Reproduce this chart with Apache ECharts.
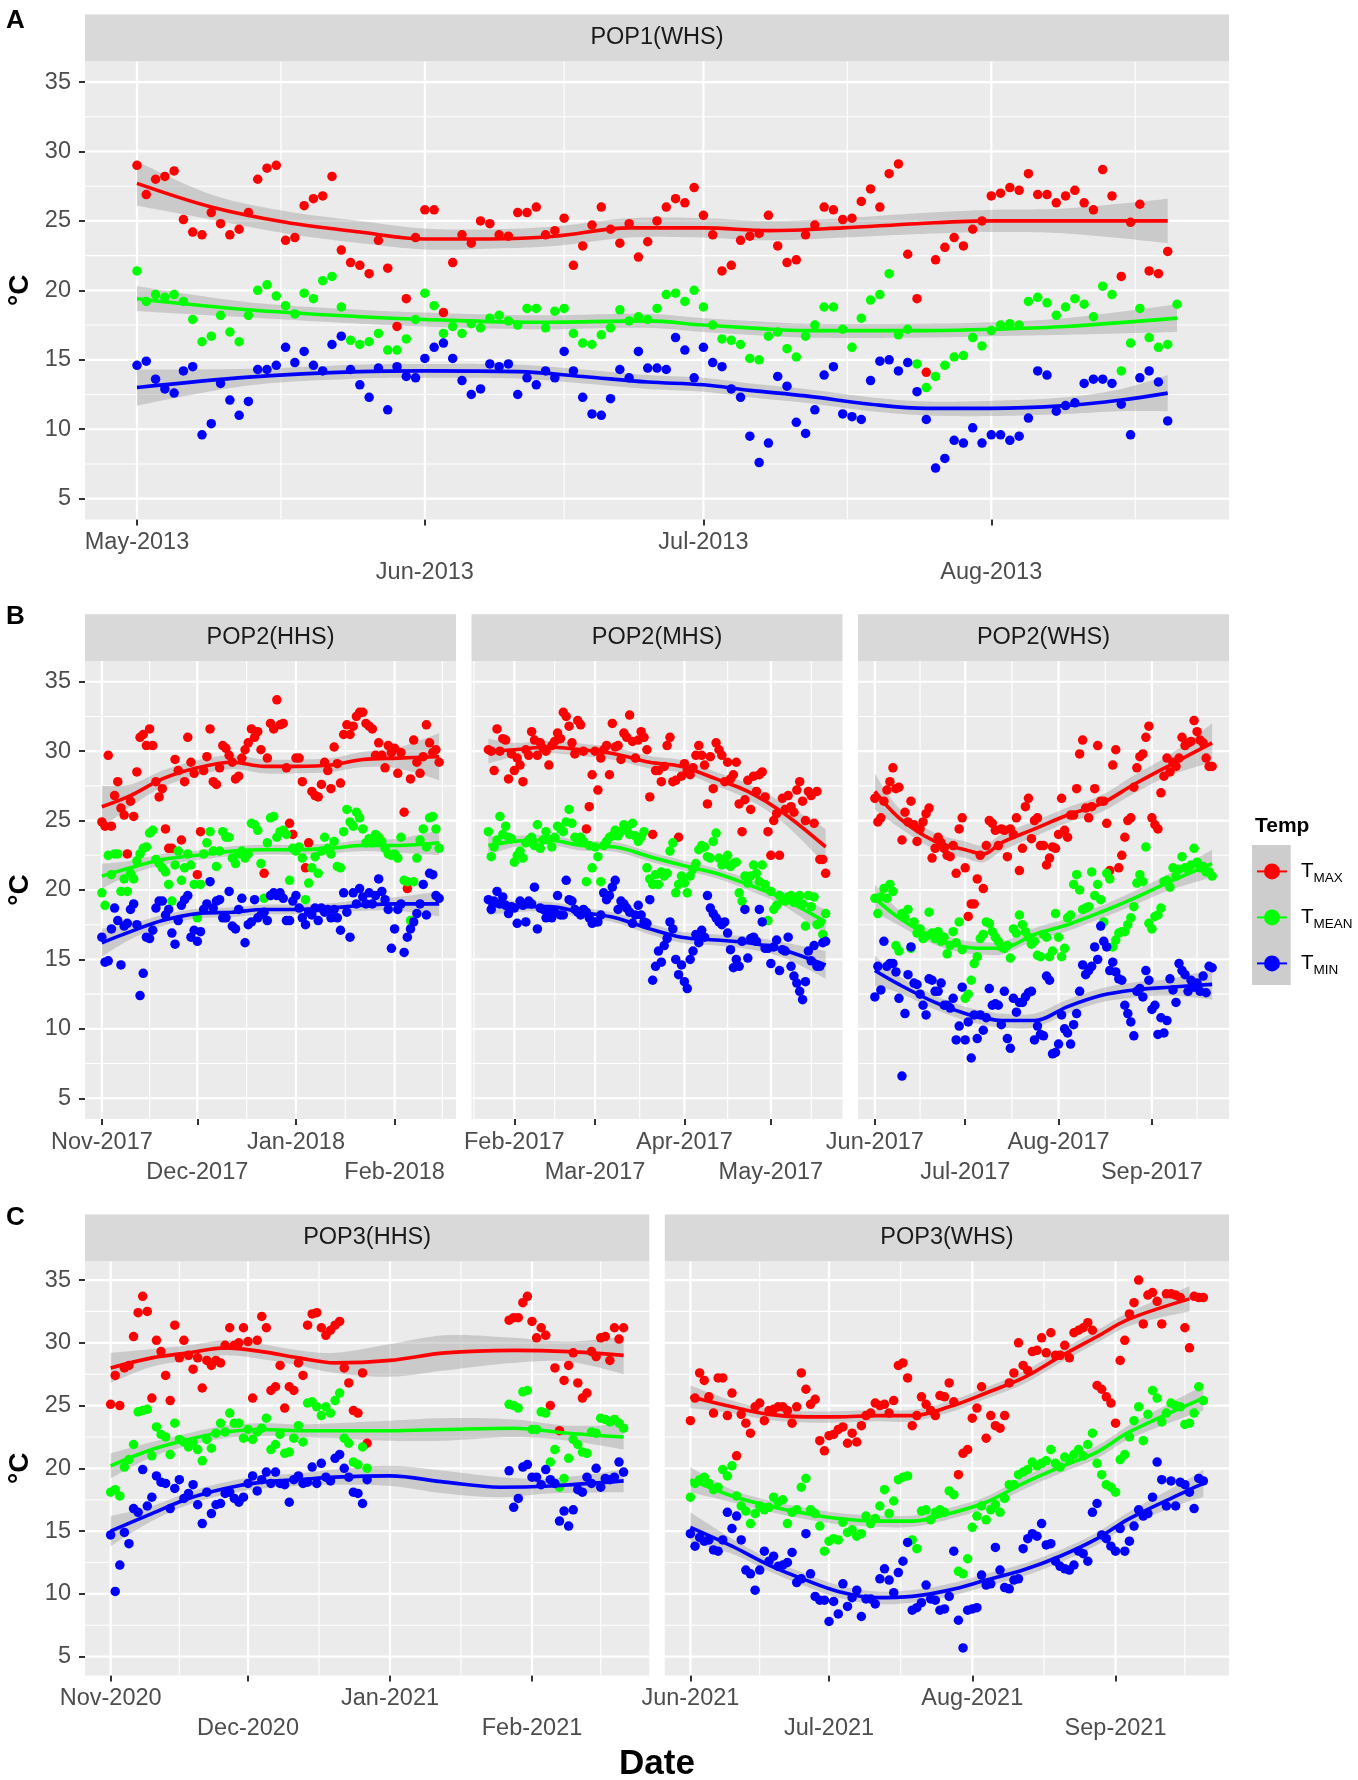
<!DOCTYPE html>
<html>
<head>
<meta charset="utf-8">
<script src="https://cdn.jsdelivr.net/npm/echarts@6/dist/echarts.min.js"></script>
<style>html,body{margin:0;padding:0;background:#fff}#chart{width:1358px;height:1780px}</style>
</head>
<body>
<div id="chart"></div>
<script>
// ===== DATA =====
const SERIES_NAMES = ['TMAX', 'TMEAN', 'TMIN'];
const Y_TICKS = [5, 10, 15, 20, 25, 30, 35];

// --- Panel A: POP1(WHS) ---
const A_START = '2013-05-01';
const A_TICKS = ['2013-05-01', '2013-06-01', '2013-07-01', '2013-08-01'];
const A_TMAX = [29.0,26.9,28.0,28.2,28.6,25.1,24.2,24.0,25.6,24.8,24.0,24.4,25.6,28.0,28.8,29.0,23.6,23.8,26.1,26.6,26.8,28.2,22.9,22.0,21.8,21.2,23.6,21.6,17.4,19.4,23.8,25.8,25.8,18.4,22.0,24.0,23.4,25.0,24.8,24.0,23.9,25.6,25.6,26.0,24.0,24.3,25.2,21.8,23.2,24.7,26.0,24.4,23.4,24.8,22.4,23.5,25.0,26.0,26.6,26.3,27.4,25.4,24.0,21.4,21.8,23.6,23.9,24.1,25.4,23.2,22.0,22.2,24.0,24.7,26.0,25.8,25.1,25.2,26.4,27.3,26.0,28.4,29.1,22.6,19.4,14.1,22.2,23.1,23.8,23.2,24.4,25.0,26.8,27.0,27.4,27.2,28.4,26.9,26.9,26.3,26.8,27.2,26.3,25.8,28.7,26.8,21.0,24.9,26.2,21.4,21.2,22.8];
const A_TMEAN = [21.4,19.2,19.7,19.5,19.7,19.2,17.9,16.3,16.7,18.2,17.0,16.3,18.2,20.0,20.4,19.6,18.9,18.3,19.8,19.4,20.7,21.0,18.8,16.4,16.1,16.3,16.9,15.7,15.7,16.5,17.9,19.8,18.9,16.9,17.4,16.9,17.6,17.3,18.0,18.2,17.8,17.5,18.7,18.7,17.3,18.5,18.7,16.9,16.2,16.1,16.8,17.3,18.6,17.8,18.1,17.9,18.7,19.7,19.8,19.2,20.0,18.8,17.5,16.5,16.4,16.1,15.1,15.0,16.7,17.0,15.8,15.2,16.7,17.5,18.8,18.8,17.2,15.9,18.0,19.3,19.7,21.2,16.8,17.2,14.7,13.0,13.8,14.6,15.2,15.3,16.6,16.0,17.1,17.5,17.6,17.5,19.2,19.5,19.1,18.2,18.8,19.4,19.0,18.1,20.3,19.7,14.2,16.2,18.7,16.6,15.9,16.1,19.0];
const A_TMIN = [14.6,14.9,13.6,12.9,12.6,14.2,14.5,9.6,10.4,13.3,12.1,11.0,12.0,14.3,14.3,14.6,15.9,14.8,15.6,14.6,14.2,16.1,16.7,14.3,13.2,12.3,14.4,11.4,14.5,13.8,13.7,15.1,15.9,16.2,15.1,13.5,12.5,12.9,14.7,14.5,14.7,12.5,13.7,13.2,14.2,13.7,15.6,14.2,12.3,11.1,11.0,12.2,14.3,13.7,15.6,14.4,14.4,14.3,16.6,15.7,13.7,15.9,14.8,14.5,12.9,12.3,9.5,7.6,9.0,13.8,13.1,10.5,9.7,11.4,13.9,14.5,11.1,10.9,10.7,13.5,14.9,15.0,14.2,14.8,12.7,10.7,7.2,7.9,9.2,9.0,10.1,9.0,9.6,9.6,9.2,9.5,10.8,14.2,13.9,11.3,11.7,11.9,13.3,13.6,13.6,13.3,11.8,9.6,13.7,14.2,13.4,10.6];
const A_FIT_TMAX_DAYS = [0,8,16,24,31,38,45,53,61,68,76,84,92,100,111];
const A_FIT_TMAX = [27.7,26.0,24.9,24.2,23.7,23.7,23.9,24.5,24.5,24.3,24.5,24.8,25.0,25.0,25.0];
const A_SE_TMAX = [1.6,0.9,0.8,0.8,0.75,0.7,0.7,0.7,0.7,0.7,0.7,0.75,0.8,0.9,1.6];
const A_FIT_TMEAN_DAYS = [0,12,24,31,43,55,61,66,72,85,92,100,112];
const A_FIT_TMEAN = [19.4,18.6,18.1,17.9,17.7,17.8,17.5,17.3,17.1,17.1,17.2,17.4,18.0];
const A_SE_TMEAN = [0.9,0.55,0.5,0.5,0.5,0.5,0.5,0.5,0.5,0.5,0.5,0.6,1.0];
const A_FIT_TMIN_DAYS = [0,12,24,31,41,48,55,61,66,72,79,85,92,100,106,111];
const A_FIT_TMIN = [13.0,13.75,14.15,14.2,14.15,13.8,13.4,13.2,12.8,12.4,11.8,11.5,11.5,11.7,12.1,12.6];
const A_SE_TMIN = [1.3,0.6,0.5,0.5,0.5,0.5,0.5,0.5,0.5,0.5,0.5,0.5,0.55,0.6,0.8,1.3];

// --- Panel B1: POP2(HHS) ---
const B1_START = '2017-11-01';
const B1_TICKS = ['2017-11-01', '2017-12-01', '2018-01-01', '2018-02-01'];
const B1_TMAX = [24.9,24.6,29.7,24.6,26.8,27.8,25.9,25.4,22.6,26.4,25.3,28.5,31.0,31.2,30.4,31.6,30.4,27.8,26.7,27.3,24.4,23.0,23.0,29.4,28.6,23.6,27.8,31.0,29.2,28.4,21.1,24.2,28.6,29.6,31.6,27.8,27.6,28.8,30.4,30.2,29.7,29.2,28.0,28.2,29.5,30.1,30.6,31.6,31.0,31.4,30.1,21.2,29.5,32.0,31.6,33.7,31.9,32.0,28.8,24.8,24.0,29.5,29.5,27.8,21.6,23.4,27.1,26.8,26.7,27.6,29.2,28.6,27.3,30.3,29.1,27.7,31.2,31.9,31.2,31.8,32.5,32.8,32.8,32.0,31.8,31.6,29.7,30.6,29.7,28.8,30.4,29.9,30.2,28.4,29.9,25.6,20.1,28.0,30.8,29.2,28.4,29.6,31.9,30.6,29.9,30.1,29.2];
const B1_TMEAN = [19.8,18.9,22.5,21.1,22.6,22.6,19.9,20.8,19.9,21.2,20.8,22.1,22.6,23.0,23.1,24.1,24.3,22.2,21.9,21.6,21.3,20.4,19.2,21.8,22.8,20.7,21.6,22.6,21.8,20.4,18.0,20.4,22.6,23.4,24.2,22.8,21.7,22.8,24.2,23.8,23.8,22.3,21.9,22.6,22.8,22.3,22.6,24.8,24.7,24.3,21.9,19.4,23.4,25.2,25.3,23.8,24.2,24.3,24.0,20.7,23.0,22.8,23.1,22.3,19.3,20.5,21.6,22.4,21.2,22.8,23.8,23.0,22.6,23.5,21.7,21.6,24.2,25.8,24.9,24.6,25.6,25.2,24.4,23.4,23.7,23.4,24.0,23.8,23.5,23.0,22.6,22.5,22.6,22.3,23.8,20.7,20.6,17.8,20.6,22.3,23.6,24.4,23.1,25.2,25.3,24.4,23.0];
const B1_TMIN = [16.6,14.8,14.9,17.2,18.7,17.8,14.6,17.4,17.6,18.6,19.0,17.5,12.4,14.0,16.6,16.5,17.1,18.7,19.2,19.2,18.2,18.6,16.9,16.1,17.8,18.9,19.3,19.6,16.6,17.1,16.3,17.0,18.6,19.0,20.6,18.7,19.2,19.3,18.0,18.0,19.9,17.4,17.2,18.6,19.4,16.2,17.5,17.7,19.3,18.0,18.2,18.4,17.8,19.6,19.8,19.6,19.8,19.4,17.8,17.8,19.2,19.6,18.7,18.0,17.5,18.4,18.2,18.7,17.8,18.7,18.4,18.6,18.0,18.6,18.0,17.1,19.8,18.4,16.6,19.8,19.0,20.1,19.5,19.0,19.8,19.0,19.6,20.8,19.9,19.3,18.6,15.8,17.2,18.6,19.0,15.5,16.6,17.2,17.7,18.3,19.0,20.4,18.2,21.2,21.1,19.6,19.4];
const B1_FIT_DAYS = [0,9,19,30,41,51,61,72,82,93,106];
const B1_FIT_TMAX = [26.0,26.8,28.0,28.8,29.2,28.9,28.9,29.0,29.4,29.5,29.6];
const B1_SE_TMAX = [1.5,0.8,0.6,0.55,0.5,0.5,0.5,0.5,0.55,0.75,1.7];
const B1_FIT_TMEAN = [21.0,21.6,22.2,22.5,22.8,22.9,22.9,23.0,23.2,23.2,23.4];
const B1_SE_TMEAN = [0.9,0.5,0.4,0.35,0.35,0.35,0.35,0.35,0.4,0.5,0.9];
const B1_FIT_TMIN = [16.2,17.0,17.8,18.3,18.4,18.6,18.6,18.7,18.9,19.0,19.0];
const B1_SE_TMIN = [1.0,0.55,0.4,0.35,0.35,0.35,0.35,0.35,0.4,0.5,0.9];

// --- Panel B2: POP2(MHS) ---
const B2_START = '2017-01-23';
const B2_TICKS = ['2017-02-01', '2017-03-01', '2017-04-01', '2017-05-01'];
const B2_TMAX = [30.1,30.0,28.6,31.6,30.0,30.9,30.8,28.0,29.8,28.6,29.5,29.0,27.8,30.1,29.7,31.4,30.8,29.7,30.6,30.2,30.0,29.0,30.4,30.7,31.3,30.9,32.8,32.5,31.8,30.6,29.8,32.2,31.9,30.0,24.4,26.0,28.3,30.0,27.2,29.5,30.1,30.4,28.3,32.0,30.3,30.4,29.4,31.3,31.0,32.6,30.7,29.5,30.8,31.4,31.0,30.1,26.7,24.0,28.6,28.6,27.8,28.9,30.4,31.0,27.8,27.9,23.8,28.2,29.1,28.6,28.3,28.8,29.7,30.4,29.7,29.0,26.2,29.6,27.3,30.6,30.1,29.7,27.8,29.2,28.0,28.3,29.2,26.2,24.2,26.5,27.9,25.8,28.2,27.1,28.3,28.5,26.7,24.2,22.5,25.0,25.5,22.5,26.6,25.8,26.8,26.0,25.6,27.2,27.8,26.4,25.0,27.1,26.8,24.8,27.1,22.2,22.2,21.2];
const B2_TMEAN = [24.2,22.4,23.1,23.6,25.3,24.0,24.6,23.8,23.7,22.0,22.5,22.8,22.3,23.4,23.6,23.8,23.2,24.7,23.0,23.6,24.2,23.6,23.1,23.8,24.6,24.4,24.2,24.9,25.8,24.8,23.8,23.6,23.8,23.5,20.6,23.2,21.6,23.1,22.4,20.6,23.2,23.5,23.8,23.9,24.3,23.9,24.2,24.7,24.4,24.0,24.8,23.9,23.5,23.8,24.2,21.6,20.8,20.4,21.1,20.4,21.3,21.0,21.2,22.8,23.4,19.8,20.4,21.0,20.5,19.8,21.0,21.5,21.9,22.9,23.2,23.1,22.4,22.3,23.5,24.1,22.3,21.8,22.0,22.5,21.7,21.9,22.0,19.8,19.2,21.0,20.5,21.0,21.8,21.2,20.6,21.8,20.4,17.8,19.9,18.6,18.9,19.6,19.3,19.2,19.5,19.6,19.1,19.4,19.6,19.0,17.4,19.6,18.8,19.5,17.5,17.6,16.8,18.3];
const B2_TMIN = [19.3,18.6,19.2,19.9,19.0,19.5,18.9,18.3,18.8,18.7,17.6,19.2,18.9,17.7,19.2,19.0,20.2,17.2,18.7,18.6,18.0,18.5,18.0,18.4,19.6,18.2,18.2,20.7,19.3,19.2,18.6,18.4,18.2,18.6,18.4,18.0,17.6,17.7,17.7,18.2,19.8,19.3,19.6,20.2,20.7,18.6,19.2,19.0,18.7,18.4,17.6,18.2,18.9,18.2,17.7,17.6,19.3,13.5,14.5,15.6,14.8,16.0,16.5,17.7,17.2,15.0,13.9,14.6,13.4,12.9,15.0,15.6,16.8,16.2,17.1,16.6,19.6,18.7,18.3,18.0,17.7,17.5,17.7,16.9,15.7,14.4,15.0,14.5,16.3,18.6,15.1,16.5,16.6,16.3,18.6,17.7,15.8,15.8,14.7,15.9,16.4,14.2,15.7,15.6,16.6,14.5,13.8,13.3,12.7,12.1,13.4,15.6,14.9,16.0,14.5,14.5,16.2,16.3];
const B2_FIT_DAYS = [0,9,21,32,44,56,67,79,90,102,117];
const B2_FIT_TMAX = [30.0,30.1,30.3,30.1,29.8,29.2,28.9,28.0,27.1,25.6,23.1];
const B2_SE_TMAX = [0.9,0.5,0.45,0.45,0.45,0.45,0.45,0.5,0.55,0.7,1.3];
const B2_FIT_TMEAN = [23.2,23.5,23.6,23.2,23.1,22.4,21.8,21.2,20.4,19.4,17.7];
const B2_SE_TMEAN = [0.7,0.4,0.35,0.35,0.35,0.35,0.35,0.35,0.4,0.5,0.9];
const B2_FIT_TMIN = [18.9,18.8,18.8,18.4,18.0,17.2,16.6,16.4,16.2,15.7,14.6];
const B2_SE_TMIN = [0.7,0.4,0.35,0.35,0.35,0.4,0.4,0.4,0.45,0.55,1.0];

// --- Panel B3: POP2(WHS) ---
const B3_START = '2017-06-01';
const B3_TICKS = ['2017-06-01', '2017-07-01', '2017-08-01', '2017-09-01'];
const B3_TMAX = [26.6,24.9,25.2,26.4,27.2,27.8,28.8,27.3,27.4,23.6,25.6,24.9,26.4,24.7,23.5,24.4,24.9,25.5,25.9,22.3,23.0,23.8,23.4,23.0,22.5,22.4,23.2,21.2,24.4,25.2,21.6,18.1,19.0,19.0,20.8,22.5,20.1,23.2,25.0,24.8,24.3,23.2,24.4,24.3,22.4,24.4,24.0,25.2,21.4,23.0,26.0,26.6,23.7,25.0,25.2,23.2,23.2,21.8,22.3,23.1,23.0,24.0,26.6,24.3,23.8,25.4,25.4,27.3,29.8,30.8,25.9,25.2,26.0,27.3,30.4,26.4,26.4,24.8,21.4,29.0,30.1,21.6,22.5,23.8,25.0,25.2,27.4,28.8,29.6,29.8,31.0,31.8,25.2,24.7,24.4,27.0,28.2,29.5,28.5,29.2,28.9,29.5,31.0,30.4,30.6,30.7,32.2,31.4,30.8,30.6,29.5,28.9,28.9];
const B3_TMEAN = [19.4,18.3,19.5,20.1,19.4,20.4,19.9,16.0,15.6,18.3,18.0,18.6,15.8,17.7,16.9,17.2,16.5,16.7,18.4,16.9,16.5,17.0,16.3,16.6,15.4,16.0,17.0,16.2,17.7,15.7,12.2,12.5,13.5,14.7,15.2,16.5,16.8,17.7,17.6,17.0,16.6,16.3,15.9,15.8,16.0,15.1,17.2,16.9,18.2,17.5,17.0,16.6,16.1,16.3,15.3,15.2,16.8,16.6,15.2,15.6,18.3,16.6,15.2,15.8,18.0,18.2,20.4,21.1,20.0,18.6,18.7,18.8,21.3,19.6,20.4,19.3,17.7,21.2,20.8,15.9,16.4,16.9,17.0,17.0,17.5,18.0,18.8,20.5,21.1,20.6,23.1,17.6,17.2,18.1,18.2,18.7,20.6,20.7,20.2,21.6,21.0,21.5,22.4,21.6,21.5,21.8,23.0,22.0,21.6,21.7,21.3,21.3,21.0];
const B3_TMIN = [12.3,14.5,12.8,16.3,14.5,14.7,14.7,14.1,12.2,6.6,11.1,13.9,15.9,13.3,13.2,12.5,11.7,11.0,13.6,13.5,12.7,12.7,13.3,11.7,11.7,11.5,12.2,9.2,10.2,13.0,9.2,10.5,7.9,11.0,9.3,11.0,9.9,10.8,12.9,11.7,11.8,11.7,10.3,12.7,9.3,8.6,12.2,11.2,11.9,11.9,12.3,12.6,12.7,9.2,10.2,9.6,9.5,13.8,13.5,8.2,8.3,8.9,11.0,10.0,9.7,8.9,10.3,11.1,12.7,14.6,13.9,14.2,14.5,15.9,15.0,17.4,16.3,15.9,14.2,14.8,14.1,13.6,13.5,11.7,11.1,10.5,9.5,12.7,12.9,12.3,14.2,13.5,11.4,11.7,9.6,10.8,9.7,10.6,13.6,12.8,11.9,14.7,14.2,13.9,12.7,13.5,13.0,13.3,12.7,13.8,12.6,14.5,14.4];
const B3_FIT_DAYS = [0,8,20,30,36,42,53,64,75,86,98,112];
const B3_FIT_TMAX = [27.1,25.2,23.5,22.9,22.6,23.4,24.4,25.4,26.2,27.6,29.0,30.6];
const B3_SE_TMAX = [1.3,0.7,0.6,0.6,0.6,0.6,0.55,0.55,0.6,0.65,0.75,1.4];
const B3_FIT_TMEAN = [19.4,18.0,16.5,15.9,15.8,15.8,16.8,17.5,18.4,19.4,20.6,21.9];
const B3_SE_TMEAN = [1.0,0.55,0.45,0.45,0.45,0.45,0.45,0.45,0.45,0.5,0.6,1.0];
const B3_FIT_TMIN = [14.2,13.2,11.9,11.1,10.8,10.6,10.6,11.6,12.4,12.8,13.0,13.2];
const B3_SE_TMIN = [1.1,0.6,0.5,0.5,0.5,0.5,0.5,0.5,0.5,0.55,0.6,1.1];

// --- Panel C1: POP3(HHS) (two observation periods) ---
const C1_START = '2020-11-01';
const C1_START2 = '2021-01-27';
const C1_TICKS = ['2020-11-01', '2020-12-01', '2021-01-01', '2021-02-01'];
const C1_TMAX_1 = [25.1,27.4,25.0,28.0,28.2,30.5,32.4,33.7,32.5,25.6,30.2,29.3,27.4,25.4,31.4,28.8,30.2,29.0,27.9,28.8,26.4,28.6,28.2,28.6,28.4,29.8,31.2,29.8,30.0,31.2,30.1,25.6,30.2,32.1,31.2,26.2,26.5,28.2,24.8,26.5,26.2,28.4,27.4,31.4,32.3,32.4,31.2,30.6,31.0,31.4,31.7,28.0,26.8,24.6,24.4,27.6,22.0];
const C1_TMAX_2 = [31.8,32.0,32.0,33.2,33.7,31.7,30.4,31.2,30.6,25.0,28.0,23.0,27.0,28.2,29.2,26.8,25.6,26.0,29.3,28.9,30.4,30.5,28.6,31.2,30.3,31.2];
const C1_TMEAN_1 = [18.1,18.3,17.8,20.1,20.7,21.9,24.5,24.6,24.7,21.0,23.3,22.7,22.5,21.1,23.6,22.3,22.1,21.7,22.1,21.5,20.6,22.3,21.6,22.8,23.6,22.9,24.4,23.6,23.6,22.4,23.1,22.3,22.9,23.2,24.0,21.5,21.9,22.7,21.2,21.3,22.4,23.4,22.1,25.2,25.3,24.9,24.2,24.9,24.4,25.4,26.0,22.4,22.0,20.5,20.3,21.7,20.0];
const C1_TMEAN_2 = [25.1,25.0,24.8,26.1,26.2,23.1,23.1,24.5,24.4,20.5,21.5,18.5,19.2,20.8,22.3,21.9,21.3,21.2,22.9,22.8,24.0,23.9,23.7,23.9,23.6,23.2];
const C1_TMIN_1 = [14.7,10.2,12.3,14.9,14.0,16.8,16.5,19.9,17.0,17.7,19.4,18.9,18.8,16.8,18.4,19.1,17.6,18.0,18.7,17.1,15.6,18.1,16.4,17.1,17.2,18.0,18.1,17.6,17.3,17.7,18.8,19.4,18.2,19.1,19.7,18.8,19.7,18.8,18.7,17.3,19.1,19.4,18.8,18.9,20.1,18.8,20.4,19.3,19.0,20.8,21.1,20.0,19.3,18.1,18.0,17.2,19.1];
const C1_TMIN_2 = [19.8,16.9,17.6,20.1,20.3,19.3,19.3,18.7,19.9,19.1,18.8,15.8,16.6,15.4,16.7,18.3,18.1,19.3,18.8,20.0,18.5,19.2,19.1,19.3,20.5,19.7];
const C1_FIT_DAYS = [0,9,17,25,33,41,49,61,73,88,100,112];
const C1_FIT_TMAX = [28.0,28.8,29.2,29.6,29.3,28.8,28.4,28.6,29.2,29.4,29.3,29.0];
const C1_SE_TMAX = [1.2,0.7,0.6,0.6,0.6,0.6,0.8,1.3,1.4,1.0,0.8,1.5];
const C1_FIT_TMEAN = [20.2,21.5,22.3,22.9,23.1,23.0,23.0,23.0,23.1,23.2,22.8,22.5];
const C1_SE_TMEAN = [1.0,0.6,0.5,0.5,0.5,0.5,0.6,0.8,0.9,0.7,0.6,1.0];
const C1_FIT_TMIN_DAYS = [0,9,17,25,33,41,49,61,73,85,96,112];
const C1_FIT_TMIN = [15.0,16.4,17.6,18.4,18.9,19.1,19.3,19.4,18.9,18.5,18.6,19.0];
const C1_SE_TMIN = [1.2,0.6,0.5,0.5,0.5,0.5,0.6,0.8,0.9,0.8,0.6,0.9];

// --- Panel C2: POP3(WHS) ---
const C2_START = '2021-06-01';
const C2_TICKS = ['2021-06-01', '2021-07-01', '2021-08-01', '2021-09-01'];
const C2_TMAX = [23.8,25.6,27.6,27.0,25.7,24.4,27.2,27.2,24.2,26.0,21.0,24.3,23.6,22.8,24.9,25.2,23.8,24.6,24.7,24.9,24.9,24.6,23.6,24.9,27.6,26.3,25.1,25.5,22.2,21.4,22.6,22.7,23.1,23.3,22.0,22.8,22.1,23.4,24.2,24.4,25.2,25.0,25.1,24.4,25.4,28.2,28.4,27.2,23.4,24.2,25.7,25.1,24.6,24.2,25.8,25.7,26.8,25.3,19.5,21.2,21.5,24.0,24.8,26.5,22.4,24.2,23.4,23.2,24.2,26.8,27.6,30.0,28.2,27.8,29.3,29.4,30.4,29.2,30.8,29.0,29.0,29.8,28.8,30.8,31.0,31.2,31.6,31.0,26.6,26.3,25.7,25.2,23.6,28.6,30.2,32.3,33.2,35.0,31.5,33.8,34.0,33.3,31.5,33.9,33.9,33.8,33.6,31.2,29.6,33.7,33.6,33.6];
const C2_TMEAN = [17.7,18.8,19.1,19.3,18.8,18.3,18.5,19.9,19.4,20.2,17.8,17.0,16.6,15.6,16.4,17.0,16.7,16.9,17.7,17.3,17.5,15.6,16.5,16.7,18.5,19.2,16.7,16.4,15.4,13.4,14.2,14.4,14.3,15.7,14.9,15.1,14.6,14.8,16.2,15.6,16.0,17.0,18.3,16.4,17.4,19.1,19.3,19.4,14.3,13.6,16.6,16.7,15.9,16.5,16.7,16.5,18.2,17.9,11.8,11.6,12.8,15.3,16.2,17.0,15.9,16.7,17.1,16.5,17.6,18.7,18.7,19.5,19.7,19.9,20.5,20.2,20.4,20.6,21.5,20.4,20.1,20.9,20.7,21.1,21.5,21.0,21.9,22.8,20.4,19.5,18.7,18.5,18.1,20.7,21.1,22.5,23.8,24.9,22.2,24.3,26.2,25.6,23.7,24.4,25.2,25.0,24.9,23.5,23.6,24.4,26.5,25.4];
const C2_TMIN = [14.8,13.8,14.5,14.2,14.3,13.5,13.4,14.3,16.5,15.2,16.2,14.3,11.9,11.6,10.3,11.9,13.4,12.6,13.0,12.2,12.3,12.5,13.3,10.9,11.2,14.8,11.6,9.8,9.5,9.5,7.8,9.4,8.4,10.8,9.0,9.7,10.3,8.2,9.6,9.6,9.2,11.2,12.0,11.1,10.1,11.7,12.6,14.1,8.7,8.9,9.3,10.7,9.6,9.5,8.7,8.8,9.8,13.4,7.9,5.7,8.7,8.8,8.9,11.5,10.7,10.8,13.7,11.9,10.5,10.4,11.1,11.2,13.6,14.4,14.8,14.6,15.6,13.9,14.0,12.6,12.2,12.0,11.9,12.3,13.4,13.2,12.6,16.5,17.2,14.7,14.4,13.8,13.4,15.2,13.4,14.2,15.4,16.7,16.2,16.4,17.7,20.5,19.1,17.0,19.0,17.0,18.9,18.7,18.1,16.8,19.2,19.0];
const C2_FIT_TMAX_DAYS = [0,9,17,25,32,40,48,56,64,72,80,88,95,108];
const C2_FIT_TMAX = [25.7,24.9,24.3,24.1,24.1,24.2,24.2,24.9,26.0,27.2,28.9,30.5,31.9,33.5];
const C2_SE_TMAX = [0.9,0.5,0.45,0.45,0.45,0.45,0.45,0.45,0.45,0.5,0.5,0.5,0.55,1.0];
const C2_FIT_TMEAN_DAYS = [0,9,17,25,32,40,48,56,64,72,80,88,95,111];
const C2_FIT_TMEAN = [19.1,17.8,17.0,16.4,16.0,15.8,15.8,16.4,17.3,18.8,20.1,21.3,22.9,25.6];
const C2_SE_TMEAN = [1.0,0.5,0.45,0.45,0.45,0.45,0.45,0.45,0.45,0.5,0.5,0.5,0.55,1.0];
const C2_FIT_TMIN_DAYS = [0,9,17,25,32,40,48,56,64,72,80,88,95,108,111];
const C2_FIT_TMIN = [15.3,13.8,12.3,11.1,10.2,9.7,9.8,10.3,11.1,11.9,13.0,14.4,16.0,18.3,18.8];
const C2_SE_TMIN = [1.2,0.6,0.5,0.5,0.5,0.5,0.5,0.5,0.5,0.5,0.5,0.5,0.55,0.9,1.1];

// ===== LAYOUT / STYLE =====
const DAY = 86400000;
const ts = s => Date.parse(s + 'T00:00:00Z');
const MONTHS = ['Jan','Feb','Mar','Apr','May','Jun','Jul','Aug','Sep','Oct','Nov','Dec'];
const FONT = '"Liberation Sans", Arial, Helvetica, sans-serif';
const COLORS = { TMAX: '#FF0000', TMEAN: '#00FF00', TMIN: '#0000FF' };
const YMIN = 3.5, YMAX = 36.5;
const SM = 0.35;
const BAND_FILL = 'rgba(153,153,153,0.4)';
const LABEL_STYLE = { fontSize: 23.5, lineHeight: 30, color: '#4D4D4D', fontFamily: FONT };

const ROW_A = { top: 61.2, height: 458.3, stripTop: 14.5 };
const ROW_B = { top: 660.9, height: 458.2, stripTop: 614.2 };
const ROW_C = { top: 1261.2, height: 414.3, stripTop: 1214.5 };

const PANELS = [
  { strip: 'POP1(WHS)', row: ROW_A, left: 85, width: 1144, showY: true, start: A_START, ticks: A_TICKS,
    pts: { TMAX: [[A_TMAX, A_START]], TMEAN: [[A_TMEAN, A_START]], TMIN: [[A_TMIN, A_START]] },
    fits: { TMAX: [A_FIT_TMAX_DAYS, A_FIT_TMAX, A_SE_TMAX], TMEAN: [A_FIT_TMEAN_DAYS, A_FIT_TMEAN, A_SE_TMEAN], TMIN: [A_FIT_TMIN_DAYS, A_FIT_TMIN, A_SE_TMIN] } },
  { strip: 'POP2(HHS)', row: ROW_B, left: 85, width: 371, showY: true, start: B1_START, ticks: B1_TICKS,
    pts: { TMAX: [[B1_TMAX, B1_START]], TMEAN: [[B1_TMEAN, B1_START]], TMIN: [[B1_TMIN, B1_START]] },
    fits: { TMAX: [B1_FIT_DAYS, B1_FIT_TMAX, B1_SE_TMAX], TMEAN: [B1_FIT_DAYS, B1_FIT_TMEAN, B1_SE_TMEAN], TMIN: [B1_FIT_DAYS, B1_FIT_TMIN, B1_SE_TMIN] } },
  { strip: 'POP2(MHS)', row: ROW_B, left: 471.5, width: 371, showY: false, start: B2_START, ticks: B2_TICKS,
    pts: { TMAX: [[B2_TMAX, B2_START]], TMEAN: [[B2_TMEAN, B2_START]], TMIN: [[B2_TMIN, B2_START]] },
    fits: { TMAX: [B2_FIT_DAYS, B2_FIT_TMAX, B2_SE_TMAX], TMEAN: [B2_FIT_DAYS, B2_FIT_TMEAN, B2_SE_TMEAN], TMIN: [B2_FIT_DAYS, B2_FIT_TMIN, B2_SE_TMIN] } },
  { strip: 'POP2(WHS)', row: ROW_B, left: 858, width: 371, showY: false, start: B3_START, ticks: B3_TICKS,
    pts: { TMAX: [[B3_TMAX, B3_START]], TMEAN: [[B3_TMEAN, B3_START]], TMIN: [[B3_TMIN, B3_START]] },
    fits: { TMAX: [B3_FIT_DAYS, B3_FIT_TMAX, B3_SE_TMAX], TMEAN: [B3_FIT_DAYS, B3_FIT_TMEAN, B3_SE_TMEAN], TMIN: [B3_FIT_DAYS, B3_FIT_TMIN, B3_SE_TMIN] } },
  { strip: 'POP3(HHS)', row: ROW_C, left: 85, width: 564.25, showY: true, start: C1_START, ticks: C1_TICKS,
    pts: { TMAX: [[C1_TMAX_1, C1_START], [C1_TMAX_2, C1_START2]], TMEAN: [[C1_TMEAN_1, C1_START], [C1_TMEAN_2, C1_START2]], TMIN: [[C1_TMIN_1, C1_START], [C1_TMIN_2, C1_START2]] },
    fits: { TMAX: [C1_FIT_DAYS, C1_FIT_TMAX, C1_SE_TMAX], TMEAN: [C1_FIT_DAYS, C1_FIT_TMEAN, C1_SE_TMEAN], TMIN: [C1_FIT_TMIN_DAYS, C1_FIT_TMIN, C1_SE_TMIN] } },
  { strip: 'POP3(WHS)', row: ROW_C, left: 664.75, width: 564.25, showY: false, start: C2_START, ticks: C2_TICKS,
    pts: { TMAX: [[C2_TMAX, C2_START]], TMEAN: [[C2_TMEAN, C2_START]], TMIN: [[C2_TMIN, C2_START]] },
    fits: { TMAX: [C2_FIT_TMAX_DAYS, C2_FIT_TMAX, C2_SE_TMAX], TMEAN: [C2_FIT_TMEAN_DAYS, C2_FIT_TMEAN, C2_SE_TMEAN], TMIN: [C2_FIT_TMIN_DAYS, C2_FIT_TMIN, C2_SE_TMIN] } }
];

// ggplot-like minor breaks: midpoints of majors, extended by first spacing
function minorBreaks(b, lo, hi) {
  const bd = b[1] - b[0];
  const bb = b.slice();
  if (lo < bb[0]) bb.unshift(bb[0] - bd);
  if (hi > bb[bb.length - 1]) bb.push(bb[bb.length - 1] + bd);
  const out = [];
  for (let i = 0; i < bb.length - 1; i++) {
    const m = (bb[i] + bb[i + 1]) / 2;
    if (m > lo && m < hi) out.push(m);
  }
  return out;
}

// Same control-point rule as ECharts line smoothing, sampled for a polygon edge
function smoothPts(pts, s) {
  const n = pts.length;
  if (n < 3) return pts.slice();
  const cps = pts.map((p, i) => {
    const prev = pts[Math.max(i - 1, 0)], next = pts[Math.min(i + 1, n - 1)];
    const vx = next[0] - prev[0], vy = next[1] - prev[1];
    const lp = Math.hypot(p[0] - prev[0], p[1] - prev[1]);
    const ln = Math.hypot(next[0] - p[0], next[1] - p[1]);
    const r = (lp + ln) > 0 ? ln / (lp + ln) : 0.5;
    return [[p[0] - vx * s * (1 - r), p[1] - vy * s * (1 - r)], [p[0] + vx * s * r, p[1] + vy * s * r]];
  });
  const out = [pts[0]];
  for (let i = 0; i < n - 1; i++) {
    const p0 = pts[i], p1 = pts[i + 1];
    const c1 = i === 0 ? p0 : cps[i][1];
    const c2 = i + 1 === n - 1 ? p1 : cps[i + 1][0];
    for (let k = 1; k <= 16; k++) {
      const t = k / 16, u = 1 - t;
      out.push([
        u*u*u*p0[0] + 3*u*u*t*c1[0] + 3*u*t*t*c2[0] + t*t*t*p1[0],
        u*u*u*p0[1] + 3*u*u*t*c1[1] + 3*u*t*t*c2[1] + t*t*t*p1[1]
      ]);
    }
  }
  return out;
}

const monthLabel = v => { const d = new Date(v); return MONTHS[d.getUTCMonth()] + '-' + d.getUTCFullYear(); };

const grids = [], xAxes = [], yAxes = [], series = [], graphics = [];
const minorY = minorBreaks(Y_TICKS, YMIN, YMAX);

PANELS.forEach((p, gi) => {
  const x0 = ts(p.start);
  let last = x0;
  SERIES_NAMES.forEach(k => p.pts[k].forEach(([vals, s]) => {
    last = Math.max(last, ts(s) + (vals.length - 1) * DAY);
  }));
  const pad = (last - x0) * 0.05;
  const xmin = x0 - pad, xmax = last + pad;
  const ticks = p.ticks.map(ts);
  const row1 = ticks.filter((v, i) => i % 2 === 0);
  const row2 = ticks.filter((v, i) => i % 2 === 1);
  const minorX = minorBreaks(ticks, xmin, xmax);
  const xi = xAxes.length;

  grids.push({ left: p.left, top: p.row.top, width: p.width, height: p.row.height, show: true,
    backgroundColor: '#EBEBEB', borderWidth: 0, containLabel: false, outerBoundsMode: 'none' });

  // main x axis: all ticks, first row of labels
  xAxes.push({
    gridIndex: gi, type: 'value', min: xmin, max: xmax, position: 'bottom',
    axisLine: { show: false },
    axisTick: { show: true, customValues: ticks, length: 6, lineStyle: { color: '#333333', width: 2 } },
    axisLabel: Object.assign({ show: true, customValues: row1, hideOverlap: false, showMinLabel: true, showMaxLabel: true,
      margin: 8, formatter: monthLabel }, LABEL_STYLE),
    splitLine: { show: false }
  });
  // companion x axis: second (dodged) row of labels
  xAxes.push({
    gridIndex: gi, type: 'value', min: xmin, max: xmax, position: 'bottom', offset: 0,
    axisLine: { show: false },
    axisTick: { show: false, customValues: row2 },
    axisLabel: Object.assign({ show: true, customValues: row2, hideOverlap: false, showMinLabel: true, showMaxLabel: true,
      margin: 38, formatter: monthLabel }, LABEL_STYLE),
    splitLine: { show: false }
  });
  yAxes.push({
    gridIndex: gi, type: 'value', min: YMIN, max: YMAX,
    axisLine: { show: false },
    axisTick: { show: p.showY, customValues: Y_TICKS, length: 6, lineStyle: { color: '#333333', width: 2 } },
    axisLabel: { show: p.showY, customValues: Y_TICKS, showMinLabel: true, showMaxLabel: true, margin: 14, fontSize: 23.5, color: '#4D4D4D', fontFamily: FONT },
    splitLine: { show: false }
  });

  // panel grid lines
  series.push({
    type: 'custom', xAxisIndex: xi, yAxisIndex: gi, z: 1, silent: true, clip: true,
    data: [[xmin, YMIN]],
    renderItem: (params, api) => {
      const children = [];
      const vline = (v, w) => {
        const a = api.coord([v, YMIN]), b = api.coord([v, YMAX]);
        children.push({ type: 'line', shape: { x1: a[0], y1: a[1], x2: b[0], y2: b[1] }, style: { stroke: '#FFFFFF', lineWidth: w } });
      };
      const hline = (v, w) => {
        const a = api.coord([xmin, v]), b = api.coord([xmax, v]);
        children.push({ type: 'line', shape: { x1: a[0], y1: a[1], x2: b[0], y2: b[1] }, style: { stroke: '#FFFFFF', lineWidth: w } });
      };
      minorX.forEach(v => vline(v, 1.1));
      minorY.forEach(v => hline(v, 1.1));
      ticks.forEach(v => vline(v, 2.2));
      Y_TICKS.forEach(v => hline(v, 2.2));
      return { type: 'group', children };
    }
  });

  // confidence bands
  SERIES_NAMES.forEach(k => {
    const [days, vals, se] = p.fits[k];
    series.push({
      type: 'custom', xAxisIndex: xi, yAxisIndex: gi, z: 2, silent: true, clip: true,
      data: days.map((d, i) => [x0 + d * DAY, vals[i] - se[i], vals[i] + se[i]]),
      encode: { x: 0, y: [1, 2] },
      renderItem: (params, api) => {
        if (params.dataIndex !== 0) return null;
        const up = days.map((d, i) => api.coord([x0 + d * DAY, vals[i] + se[i]]));
        const lo = days.map((d, i) => api.coord([x0 + d * DAY, vals[i] - se[i]]));
        const pts = smoothPts(up, SM).concat(smoothPts(lo, SM).reverse());
        return { type: 'polygon', shape: { points: pts }, style: { fill: BAND_FILL } };
      }
    });
  });

  // points
  SERIES_NAMES.forEach(k => {
    const data = [];
    p.pts[k].forEach(([vals, s]) => {
      const base = ts(s);
      vals.forEach((v, i) => data.push([base + i * DAY, v]));
    });
    series.push({ type: 'scatter', name: k + ' obs', xAxisIndex: xi, yAxisIndex: gi, z: 3, silent: true,
      symbol: 'circle', symbolSize: 9.5, itemStyle: { color: COLORS[k], opacity: 1 }, data });
  });

  // fitted lines
  SERIES_NAMES.forEach(k => {
    const [days, vals] = p.fits[k];
    series.push({ type: 'line', name: k, xAxisIndex: xi, yAxisIndex: gi, z: 4, silent: true,
      smooth: SM, symbol: 'circle', showSymbol: false,
      lineStyle: { color: COLORS[k], width: 3.6 }, itemStyle: { color: COLORS[k] },
      data: days.map((d, i) => [x0 + d * DAY, vals[i]]) });
  });

  // strip
  graphics.push({ type: 'rect', shape: { x: p.left, y: p.row.stripTop, width: p.width, height: p.row.top - p.row.stripTop },
    style: { fill: '#D9D9D9' }, silent: true });
  graphics.push({ type: 'text', x: p.left + p.width / 2, y: (p.row.stripTop + p.row.top) / 2,
    style: { text: p.strip, fill: '#1A1A1A', fontSize: 23.5, fontFamily: FONT, align: 'center', verticalAlign: 'middle' }, silent: true });
});

// row titles, axis titles
[[ 'A', 20.5, ROW_A ], [ 'B', 617, ROW_B ], [ 'C', 1218, ROW_C ]].forEach(([lab, y, row]) => {
  graphics.push({ type: 'text', x: 15.5, y, style: { text: lab, fill: '#000', fontSize: 26, fontWeight: 'bold', fontFamily: FONT, align: 'center', verticalAlign: 'middle' }, silent: true });
  graphics.push({ type: 'text', x: 20, y: row.top + row.height / 2, rotation: Math.PI / 2,
    style: { text: '°C', fill: '#000', fontSize: 28, fontWeight: 'bold', fontFamily: FONT, align: 'center', verticalAlign: 'middle' }, silent: true });
});
graphics.push({ type: 'text', x: 657, y: 1764, style: { text: 'Date', fill: '#000', fontSize: 35, fontWeight: 'bold', fontFamily: FONT, align: 'center', verticalAlign: 'middle' }, silent: true });

// legend title and key background
graphics.push({ type: 'text', x: 1255, y: 826, style: { text: 'Temp', fill: '#000', fontSize: 21, fontWeight: 'bold', fontFamily: FONT, align: 'left', verticalAlign: 'middle' }, silent: true });
graphics.push({ type: 'rect', shape: { x: 1252, y: 845, width: 38.7, height: 140 }, style: { fill: '#CDCDCD' }, silent: true, z: -10 });

const option = {
  animation: false,
  backgroundColor: '#FFFFFF',
  grid: grids,
  xAxis: xAxes,
  yAxis: yAxes,
  series,
  graphic: { elements: graphics },
  legend: {
    orient: 'vertical', left: 1256, top: 860.9, itemWidth: 30, itemHeight: 20, itemGap: 21.5,
    selectedMode: false, data: SERIES_NAMES, z: 10, padding: 0,
    formatter: n => '{t|T}{s|' + n.slice(1) + '}',
    textStyle: { fontFamily: FONT, color: '#000',
      rich: {
        t: { fontSize: 20.5, lineHeight: 28, color: '#000', fontFamily: FONT, padding: [0, 0, 0, 9] },
        s: { fontSize: 13.5, lineHeight: 16, verticalAlign: 'bottom', color: '#000', fontFamily: FONT }
      } }
  }
};

const chart = echarts.init(document.getElementById('chart'), null, { renderer: 'canvas', width: 1358, height: 1780 });
chart.setOption(option);
</script>
</body>
</html>
